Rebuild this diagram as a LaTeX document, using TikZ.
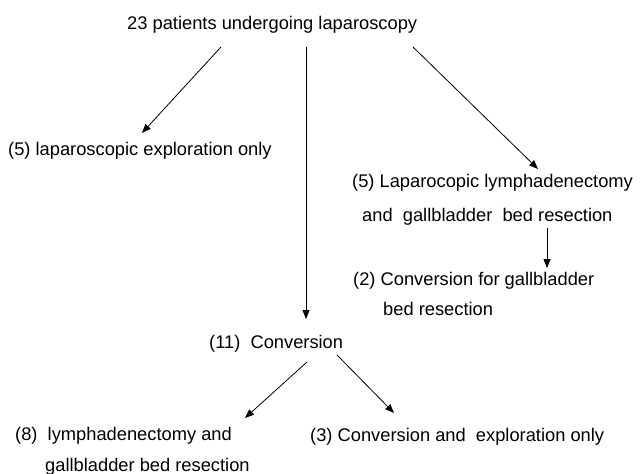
\documentclass[tikz,border=0pt]{standalone}
\usepackage{fontspec}
\setmainfont{Liberation Sans}
\usetikzlibrary{arrows.meta}
\begin{document}
\begin{tikzpicture}[x=1pt,y=-1pt,
  lbl/.style={anchor=base west,inner sep=0pt,font=\fontsize{18.3}{20}\selectfont},
  arr/.style={line width=0.8pt,-{Triangle[length=9pt,width=7pt]}}]
\useasboundingbox (0,0) rectangle (644,473);
% texts
\node[lbl] (top) at (127,30) {23 patients undergoing laparoscopy};
\node[lbl] (expl) at (8,156) {(5) laparoscopic exploration only};
\node[lbl] (lap1) at (352,187) {(5) Laparocopic lymphadenectomy};
\node[lbl] (lap2) at (362,221) {and~ gallbladder~ bed resection};
\node[lbl] (conv1) at (353,285) {(2) Conversion for gallbladder};
\node[lbl] (conv2) at (383,315) {bed resection};
\node[lbl] (eleven) at (209,348) {(11)~ Conversion};
\node[lbl] (eight1) at (15,440) {(8)~ lymphadenectomy and};
\node[lbl] (eight2) at (45,471) {gallbladder bed resection};
\node[lbl] (three) at (310,441) {(3) Conversion and~ exploration only};
% connector ends
\coordinate (a1) at (221,47);  \coordinate (a2) at (142,133);
\coordinate (b1) at (306,47);  \coordinate (b2) at (306,319);
\coordinate (c1) at (413,47);  \coordinate (c2) at (538,169);
\coordinate (d1) at (547,228); \coordinate (d2) at (547,268);
\coordinate (e1) at (307,362); \coordinate (e2) at (245,418);
\coordinate (f1) at (337,355); \coordinate (f2) at (394,413);
\draw[arr] (a1) -- (a2);
\draw[arr] (b1) -- (b2);
\draw[arr] (c1) -- (c2);
\draw[arr] (d1) -- (d2);
\draw[arr] (e1) -- (e2);
\draw[arr] (f1) -- (f2);
\end{tikzpicture}
\end{document}
